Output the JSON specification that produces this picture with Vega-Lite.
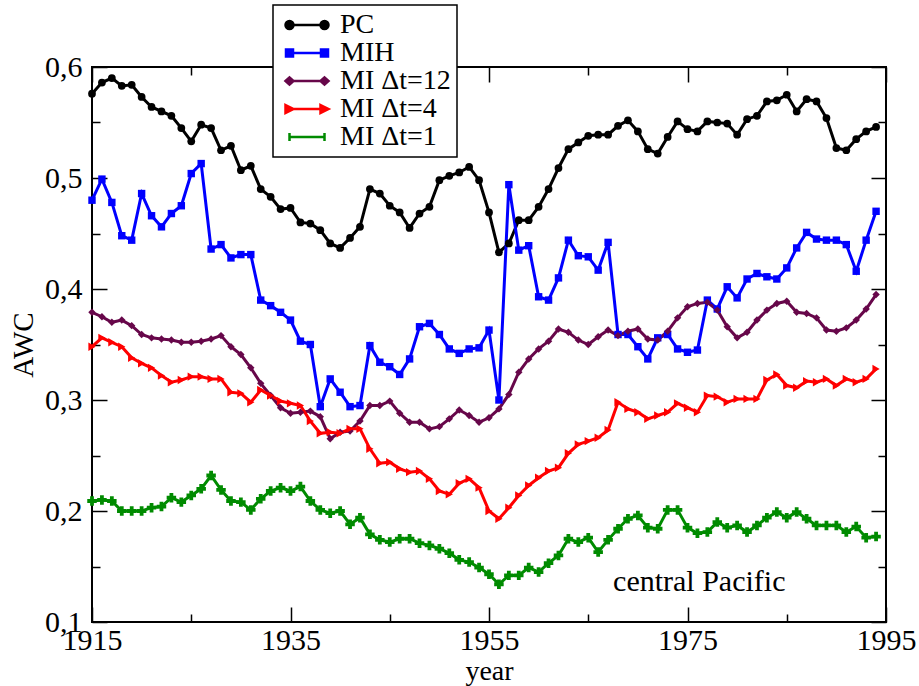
{
  "$schema": "https://vega.github.io/schema/vega-lite/v6.json",
  "width": 794,
  "height": 555,
  "autosize": {"type": "none"},
  "padding": {"left": 92, "top": 67, "right": 33, "bottom": 64},
  "background": "white",
  "config": {
    "view": {"stroke": "black", "strokeWidth": 2},
    "font": "Liberation Serif",
    "style": {"guide-label": {"font": "Liberation Serif", "fill": "black"}, "guide-title": {"font": "Liberation Serif"}},
    "axis": {"grid": false, "domain": false, "tickColor": "black", "tickWidth": 1.5, "labelColor": "black", "titleColor": "black", "labelFont": "Liberation Serif", "titleFont": "Liberation Serif", "titleFontWeight": "normal"},
    "legend": {
      "orient": "none", "legendX": 181, "legendY": -62, "title": null, "direction": "vertical",
      "fillColor": "white", "strokeColor": "black", "strokeWidth": 1.5, "padding": 6,
      "symbolSize": 400, "symbolOffset": 14, "labelOffset": 19,
      "labelFont": "serif", "labelFontSize": 28, "labelColor": "black", "labelLimit": 300, "rowPadding": 0
    }
  },
  "datasets": {
    "awc": [
      {"year":1915,"PC":0.576,"MIH":0.480,"MI Δt=12":0.379,"MI Δt=4":0.348,"MI Δt=1":0.209},
      {"year":1916,"PC":0.586,"MIH":0.499,"MI Δt=12":0.375,"MI Δt=4":0.356,"MI Δt=1":0.210},
      {"year":1917,"PC":0.590,"MIH":0.478,"MI Δt=12":0.370,"MI Δt=4":0.352,"MI Δt=1":0.209},
      {"year":1918,"PC":0.583,"MIH":0.448,"MI Δt=12":0.372,"MI Δt=4":0.348,"MI Δt=1":0.200},
      {"year":1919,"PC":0.584,"MIH":0.444,"MI Δt=12":0.367,"MI Δt=4":0.338,"MI Δt=1":0.200},
      {"year":1920,"PC":0.573,"MIH":0.486,"MI Δt=12":0.359,"MI Δt=4":0.333,"MI Δt=1":0.200},
      {"year":1921,"PC":0.564,"MIH":0.466,"MI Δt=12":0.356,"MI Δt=4":0.329,"MI Δt=1":0.203},
      {"year":1922,"PC":0.560,"MIH":0.456,"MI Δt=12":0.355,"MI Δt=4":0.322,"MI Δt=1":0.204},
      {"year":1923,"PC":0.556,"MIH":0.468,"MI Δt=12":0.354,"MI Δt=4":0.316,"MI Δt=1":0.212},
      {"year":1924,"PC":0.545,"MIH":0.475,"MI Δt=12":0.352,"MI Δt=4":0.318,"MI Δt=1":0.208},
      {"year":1925,"PC":0.533,"MIH":0.504,"MI Δt=12":0.352,"MI Δt=4":0.321,"MI Δt=1":0.214},
      {"year":1926,"PC":0.548,"MIH":0.513,"MI Δt=12":0.353,"MI Δt=4":0.321,"MI Δt=1":0.220},
      {"year":1927,"PC":0.545,"MIH":0.436,"MI Δt=12":0.355,"MI Δt=4":0.319,"MI Δt=1":0.232},
      {"year":1928,"PC":0.525,"MIH":0.440,"MI Δt=12":0.358,"MI Δt=4":0.319,"MI Δt=1":0.219},
      {"year":1929,"PC":0.529,"MIH":0.428,"MI Δt=12":0.348,"MI Δt=4":0.307,"MI Δt=1":0.209},
      {"year":1930,"PC":0.507,"MIH":0.431,"MI Δt=12":0.341,"MI Δt=4":0.306,"MI Δt=1":0.208},
      {"year":1931,"PC":0.511,"MIH":0.431,"MI Δt=12":0.329,"MI Δt=4":0.298,"MI Δt=1":0.201},
      {"year":1932,"PC":0.490,"MIH":0.390,"MI Δt=12":0.315,"MI Δt=4":0.309,"MI Δt=1":0.211},
      {"year":1933,"PC":0.483,"MIH":0.385,"MI Δt=12":0.304,"MI Δt=4":0.304,"MI Δt=1":0.218},
      {"year":1934,"PC":0.472,"MIH":0.379,"MI Δt=12":0.293,"MI Δt=4":0.299,"MI Δt=1":0.221},
      {"year":1935,"PC":0.473,"MIH":0.372,"MI Δt=12":0.288,"MI Δt=4":0.297,"MI Δt=1":0.218},
      {"year":1936,"PC":0.460,"MIH":0.353,"MI Δt=12":0.289,"MI Δt=4":0.295,"MI Δt=1":0.222},
      {"year":1937,"PC":0.459,"MIH":0.350,"MI Δt=12":0.290,"MI Δt=4":0.281,"MI Δt=1":0.209},
      {"year":1938,"PC":0.453,"MIH":0.294,"MI Δt=12":0.285,"MI Δt=4":0.270,"MI Δt=1":0.201},
      {"year":1939,"PC":0.441,"MIH":0.319,"MI Δt=12":0.265,"MI Δt=4":0.271,"MI Δt=1":0.198},
      {"year":1940,"PC":0.437,"MIH":0.307,"MI Δt=12":0.271,"MI Δt=4":0.270,"MI Δt=1":0.200},
      {"year":1941,"PC":0.446,"MIH":0.294,"MI Δt=12":0.272,"MI Δt=4":0.274,"MI Δt=1":0.188},
      {"year":1942,"PC":0.456,"MIH":0.295,"MI Δt=12":0.281,"MI Δt=4":0.274,"MI Δt=1":0.194},
      {"year":1943,"PC":0.490,"MIH":0.349,"MI Δt=12":0.295,"MI Δt=4":0.256,"MI Δt=1":0.179},
      {"year":1944,"PC":0.486,"MIH":0.334,"MI Δt=12":0.295,"MI Δt=4":0.243,"MI Δt=1":0.174},
      {"year":1945,"PC":0.475,"MIH":0.330,"MI Δt=12":0.299,"MI Δt=4":0.244,"MI Δt=1":0.172},
      {"year":1946,"PC":0.469,"MIH":0.323,"MI Δt=12":0.288,"MI Δt=4":0.238,"MI Δt=1":0.175},
      {"year":1947,"PC":0.455,"MIH":0.337,"MI Δt=12":0.280,"MI Δt=4":0.235,"MI Δt=1":0.175},
      {"year":1948,"PC":0.468,"MIH":0.366,"MI Δt=12":0.280,"MI Δt=4":0.236,"MI Δt=1":0.171},
      {"year":1949,"PC":0.474,"MIH":0.369,"MI Δt=12":0.274,"MI Δt=4":0.229,"MI Δt=1":0.169},
      {"year":1950,"PC":0.498,"MIH":0.359,"MI Δt=12":0.276,"MI Δt=4":0.218,"MI Δt=1":0.166},
      {"year":1951,"PC":0.502,"MIH":0.346,"MI Δt=12":0.283,"MI Δt=4":0.215,"MI Δt=1":0.162},
      {"year":1952,"PC":0.505,"MIH":0.342,"MI Δt=12":0.291,"MI Δt=4":0.225,"MI Δt=1":0.156},
      {"year":1953,"PC":0.510,"MIH":0.346,"MI Δt=12":0.286,"MI Δt=4":0.229,"MI Δt=1":0.154},
      {"year":1954,"PC":0.498,"MIH":0.347,"MI Δt=12":0.280,"MI Δt=4":0.221,"MI Δt=1":0.149},
      {"year":1955,"PC":0.469,"MIH":0.363,"MI Δt=12":0.284,"MI Δt=4":0.200,"MI Δt=1":0.143},
      {"year":1956,"PC":0.433,"MIH":0.300,"MI Δt=12":0.292,"MI Δt=4":0.193,"MI Δt=1":0.134},
      {"year":1957,"PC":0.441,"MIH":0.494,"MI Δt=12":0.305,"MI Δt=4":0.203,"MI Δt=1":0.142},
      {"year":1958,"PC":0.462,"MIH":0.435,"MI Δt=12":0.325,"MI Δt=4":0.214,"MI Δt=1":0.142},
      {"year":1959,"PC":0.462,"MIH":0.439,"MI Δt=12":0.337,"MI Δt=4":0.223,"MI Δt=1":0.149},
      {"year":1960,"PC":0.474,"MIH":0.393,"MI Δt=12":0.346,"MI Δt=4":0.230,"MI Δt=1":0.145},
      {"year":1961,"PC":0.490,"MIH":0.390,"MI Δt=12":0.353,"MI Δt=4":0.236,"MI Δt=1":0.153},
      {"year":1962,"PC":0.509,"MIH":0.410,"MI Δt=12":0.364,"MI Δt=4":0.239,"MI Δt=1":0.160},
      {"year":1963,"PC":0.526,"MIH":0.444,"MI Δt=12":0.361,"MI Δt=4":0.252,"MI Δt=1":0.175},
      {"year":1964,"PC":0.532,"MIH":0.430,"MI Δt=12":0.354,"MI Δt=4":0.260,"MI Δt=1":0.172},
      {"year":1965,"PC":0.538,"MIH":0.429,"MI Δt=12":0.350,"MI Δt=4":0.263,"MI Δt=1":0.176},
      {"year":1966,"PC":0.539,"MIH":0.417,"MI Δt=12":0.357,"MI Δt=4":0.266,"MI Δt=1":0.163},
      {"year":1967,"PC":0.539,"MIH":0.442,"MI Δt=12":0.363,"MI Δt=4":0.273,"MI Δt=1":0.174},
      {"year":1968,"PC":0.547,"MIH":0.359,"MI Δt=12":0.358,"MI Δt=4":0.298,"MI Δt=1":0.184},
      {"year":1969,"PC":0.552,"MIH":0.359,"MI Δt=12":0.362,"MI Δt=4":0.292,"MI Δt=1":0.193},
      {"year":1970,"PC":0.542,"MIH":0.348,"MI Δt=12":0.364,"MI Δt=4":0.289,"MI Δt=1":0.196},
      {"year":1971,"PC":0.526,"MIH":0.337,"MI Δt=12":0.355,"MI Δt=4":0.283,"MI Δt=1":0.185},
      {"year":1972,"PC":0.522,"MIH":0.356,"MI Δt=12":0.354,"MI Δt=4":0.286,"MI Δt=1":0.184},
      {"year":1973,"PC":0.537,"MIH":0.359,"MI Δt=12":0.362,"MI Δt=4":0.289,"MI Δt=1":0.201},
      {"year":1974,"PC":0.551,"MIH":0.346,"MI Δt=12":0.374,"MI Δt=4":0.297,"MI Δt=1":0.201},
      {"year":1975,"PC":0.544,"MIH":0.343,"MI Δt=12":0.384,"MI Δt=4":0.293,"MI Δt=1":0.185},
      {"year":1976,"PC":0.542,"MIH":0.345,"MI Δt=12":0.387,"MI Δt=4":0.289,"MI Δt=1":0.180},
      {"year":1977,"PC":0.551,"MIH":0.390,"MI Δt=12":0.388,"MI Δt=4":0.304,"MI Δt=1":0.181},
      {"year":1978,"PC":0.550,"MIH":0.382,"MI Δt=12":0.381,"MI Δt=4":0.303,"MI Δt=1":0.190},
      {"year":1979,"PC":0.549,"MIH":0.402,"MI Δt=12":0.366,"MI Δt=4":0.298,"MI Δt=1":0.185},
      {"year":1980,"PC":0.539,"MIH":0.392,"MI Δt=12":0.356,"MI Δt=4":0.301,"MI Δt=1":0.187},
      {"year":1981,"PC":0.553,"MIH":0.409,"MI Δt=12":0.361,"MI Δt=4":0.301,"MI Δt=1":0.181},
      {"year":1982,"PC":0.556,"MIH":0.414,"MI Δt=12":0.372,"MI Δt=4":0.301,"MI Δt=1":0.187},
      {"year":1983,"PC":0.569,"MIH":0.411,"MI Δt=12":0.381,"MI Δt=4":0.318,"MI Δt=1":0.194},
      {"year":1984,"PC":0.570,"MIH":0.409,"MI Δt=12":0.387,"MI Δt=4":0.323,"MI Δt=1":0.199},
      {"year":1985,"PC":0.575,"MIH":0.419,"MI Δt=12":0.389,"MI Δt=4":0.313,"MI Δt=1":0.194},
      {"year":1986,"PC":0.560,"MIH":0.437,"MI Δt=12":0.379,"MI Δt=4":0.311,"MI Δt=1":0.199},
      {"year":1987,"PC":0.571,"MIH":0.451,"MI Δt=12":0.378,"MI Δt=4":0.317,"MI Δt=1":0.193},
      {"year":1988,"PC":0.569,"MIH":0.445,"MI Δt=12":0.374,"MI Δt=4":0.316,"MI Δt=1":0.187},
      {"year":1989,"PC":0.554,"MIH":0.444,"MI Δt=12":0.363,"MI Δt=4":0.319,"MI Δt=1":0.187},
      {"year":1990,"PC":0.527,"MIH":0.444,"MI Δt=12":0.362,"MI Δt=4":0.313,"MI Δt=1":0.187},
      {"year":1991,"PC":0.525,"MIH":0.440,"MI Δt=12":0.365,"MI Δt=4":0.319,"MI Δt=1":0.181},
      {"year":1992,"PC":0.535,"MIH":0.416,"MI Δt=12":0.372,"MI Δt=4":0.316,"MI Δt=1":0.186},
      {"year":1993,"PC":0.542,"MIH":0.444,"MI Δt=12":0.382,"MI Δt=4":0.319,"MI Δt=1":0.176},
      {"year":1994,"PC":0.546,"MIH":0.470,"MI Δt=12":0.395,"MI Δt=4":0.328,"MI Δt=1":0.177}
    ],
    "note": [{"year": 1967.5, "AWC": 0.128, "label": "central Pacific"}]
  },
  "layer": [
    {
      "data": {"name": "awc"},
      "transform": [{"fold": ["PC", "MIH", "MI Δt=12", "MI Δt=4", "MI Δt=1"], "as": ["series", "AWC"]}],
      "mark": {"type": "line", "strokeWidth": 3},
      "encoding": {
        "x": {"field": "year", "type": "quantitative", "scale": {"domain": [1915, 1995], "nice": false, "zero": false},
              "axis": {"orient": "bottom", "values": [1915, 1935, 1955, 1975, 1995], "format": "d", "tickSize": -15, "labelFontSize": 30, "labelPadding": 18, "labelFlush": false, "labelOverlap": false, "title": "year", "titleFontSize": 28, "titlePadding": 2}},
        "y": {"field": "AWC", "type": "quantitative", "scale": {"domain": [0.1, 0.6], "nice": false, "zero": false},
              "axis": {"orient": "left", "values": [0.1, 0.2, 0.3, 0.4, 0.5, 0.6], "labelExpr": "replace(format(datum.value, '.1f'), '.', ',')", "tickSize": -15, "labelFontSize": 30, "labelPadding": 25, "labelFlush": false, "labelOverlap": false, "title": "AWC", "titleFontSize": 29, "titlePadding": 6}},
        "color": {"field": "series", "type": "nominal",
                  "scale": {"domain": ["PC", "MIH", "MI Δt=12", "MI Δt=4", "MI Δt=1"], "range": ["#000000", "#0000ff", "#67074a", "#ff0000", "#008b00"]},
                  "legend": {
                    "orient": "none", "legendX": 181, "legendY": -62, "title": null, "direction": "vertical",
                    "fillColor": "white", "strokeColor": "black", "padding": 6,
                    "symbolSize": 400, "symbolOffset": 14, "labelOffset": 19,
                    "labelFont": "serif", "labelFontSize": 28, "labelColor": "black", "labelLimit": 300, "rowPadding": 0,
                    "encode": {
                      "labels": {"update": {"font": {"value": "serif"}, "fontSize": {"value": 28}, "fill": {"value": "black"}, "text": {"field": "label"}}},
                      "symbols": {"update": {
                      "shape": {"signal": "['M-1.75,0L1.75,0M-2.15,0A0.4,0.4 0 1,0 -1.35,0A0.4,0.4 0 1,0 -2.15,0ZM1.35,0A0.4,0.4 0 1,0 2.15,0A0.4,0.4 0 1,0 1.35,0Z', 'M-1.75,0L1.75,0M-2.1,-0.35H-1.4V0.35H-2.1ZM1.4,-0.35H2.1V0.35H1.4Z', 'M-1.35,0L1.35,0M-2.15,0L-1.75,-0.35L-1.35,0L-1.75,0.35ZM1.35,0L1.75,-0.35L2.15,0L1.75,0.35Z', 'M-1.75,0L1.75,0M-2.15,-0.4L-1.35,0L-2.15,0.4ZM1.35,-0.4L2.15,0L1.35,0.4Z', 'M-1.75,0L1.75,0M-1.75,-0.4V0.4M1.75,-0.4V0.4'][datum.index]"},
                      "stroke": {"signal": "['#000000', '#0000ff', '#67074a', '#ff0000', '#008b00'][datum.index]"},
                      "fill": {"signal": "['#000000', '#0000ff', '#ffffff', '#ff0000', '#008b00'][datum.index]"},
                      "strokeWidth": {"value": 2.5},
                      "size": {"value": 400},
                      "opacity": {"value": 1},
                      "fillOpacity": {"value": 1},
                      "strokeOpacity": {"value": 1}
                    }}}
                  }}
      }
    },
    {
      "data": {"name": "awc"},
      "transform": [{"fold": ["PC", "MIH", "MI Δt=12", "MI Δt=4", "MI Δt=1"], "as": ["series", "AWC"]}, {"filter": {"field": "series", "equal": "PC"}}],
      "mark": {"type": "point", "shape": "circle", "filled": true, "opacity": 1, "size": 60},
      "encoding": {
        "x": {"field": "year", "type": "quantitative", "scale": {"domain": [1915, 1995], "nice": false, "zero": false},
              "axis": {"orient": "bottom", "values": [1925, 1945, 1965, 1985], "tickSize": -8, "labels": false, "title": null}},
        "y": {"field": "AWC", "type": "quantitative", "scale": {"domain": [0.1, 0.6], "nice": false, "zero": false},
              "axis": {"orient": "left", "values": [0.15, 0.25, 0.35, 0.45, 0.55], "tickSize": -8, "labels": false, "title": null}},
        "color": {"field": "series", "type": "nominal",
                  "scale": {"domain": ["PC", "MIH", "MI Δt=12", "MI Δt=4", "MI Δt=1"], "range": ["#000000", "#0000ff", "#67074a", "#ff0000", "#008b00"]}}
      }
    },
    {
      "data": {"name": "awc"},
      "transform": [{"fold": ["PC", "MIH", "MI Δt=12", "MI Δt=4", "MI Δt=1"], "as": ["series", "AWC"]}, {"filter": {"field": "series", "equal": "MIH"}}],
      "mark": {"type": "point", "shape": "square", "filled": true, "opacity": 1, "size": 55},
      "encoding": {
        "x": {"field": "year", "type": "quantitative", "scale": {"domain": [1915, 1995], "nice": false, "zero": false}, "axis": null},
        "y": {"field": "AWC", "type": "quantitative", "scale": {"domain": [0.1, 0.6], "nice": false, "zero": false}, "axis": null},
        "color": {"field": "series", "type": "nominal",
                  "scale": {"domain": ["PC", "MIH", "MI Δt=12", "MI Δt=4", "MI Δt=1"], "range": ["#000000", "#0000ff", "#67074a", "#ff0000", "#008b00"]}}
      }
    },
    {
      "data": {"name": "awc"},
      "transform": [{"fold": ["PC", "MIH", "MI Δt=12", "MI Δt=4", "MI Δt=1"], "as": ["series", "AWC"]}, {"filter": {"field": "series", "equal": "MI Δt=12"}}],
      "mark": {"type": "point", "shape": "diamond", "filled": true, "opacity": 1, "size": 55},
      "encoding": {
        "x": {"field": "year", "type": "quantitative", "scale": {"domain": [1915, 1995], "nice": false, "zero": false}, "axis": null},
        "y": {"field": "AWC", "type": "quantitative", "scale": {"domain": [0.1, 0.6], "nice": false, "zero": false}, "axis": null},
        "color": {"field": "series", "type": "nominal",
                  "scale": {"domain": ["PC", "MIH", "MI Δt=12", "MI Δt=4", "MI Δt=1"], "range": ["#000000", "#0000ff", "#67074a", "#ff0000", "#008b00"]}}
      }
    },
    {
      "data": {"name": "awc"},
      "transform": [{"fold": ["PC", "MIH", "MI Δt=12", "MI Δt=4", "MI Δt=1"], "as": ["series", "AWC"]}, {"filter": {"field": "series", "equal": "MI Δt=4"}}],
      "mark": {"type": "point", "shape": "triangle-right", "filled": true, "opacity": 1, "size": 70},
      "encoding": {
        "x": {"field": "year", "type": "quantitative", "scale": {"domain": [1915, 1995], "nice": false, "zero": false}, "axis": null},
        "y": {"field": "AWC", "type": "quantitative", "scale": {"domain": [0.1, 0.6], "nice": false, "zero": false}, "axis": null},
        "color": {"field": "series", "type": "nominal",
                  "scale": {"domain": ["PC", "MIH", "MI Δt=12", "MI Δt=4", "MI Δt=1"], "range": ["#000000", "#0000ff", "#67074a", "#ff0000", "#008b00"]}}
      }
    },
    {
      "data": {"name": "awc"},
      "transform": [{"fold": ["PC", "MIH", "MI Δt=12", "MI Δt=4", "MI Δt=1"], "as": ["series", "AWC"]}, {"filter": {"field": "series", "equal": "MI Δt=1"}}],
      "mark": {"type": "point", "shape": "cross", "filled": true, "opacity": 1, "size": 90},
      "encoding": {
        "x": {"field": "year", "type": "quantitative", "scale": {"domain": [1915, 1995], "nice": false, "zero": false}, "axis": null},
        "y": {"field": "AWC", "type": "quantitative", "scale": {"domain": [0.1, 0.6], "nice": false, "zero": false}, "axis": null},
        "color": {"field": "series", "type": "nominal",
                  "scale": {"domain": ["PC", "MIH", "MI Δt=12", "MI Δt=4", "MI Δt=1"], "range": ["#000000", "#0000ff", "#67074a", "#ff0000", "#008b00"]}}
      }
    },
    {
      "data": {"name": "note"},
      "mark": {"type": "text", "align": "left", "baseline": "alphabetic", "font": "Liberation Serif", "fontSize": 30, "color": "black"},
      "encoding": {
        "x": {"field": "year", "type": "quantitative", "scale": {"domain": [1915, 1995], "nice": false, "zero": false},
              "axis": {"orient": "top", "values": [1915, 1935, 1955, 1975, 1995], "tickSize": -15, "labels": false, "title": null}},
        "y": {"field": "AWC", "type": "quantitative", "scale": {"domain": [0.1, 0.6], "nice": false, "zero": false},
              "axis": {"orient": "right", "values": [0.1, 0.2, 0.3, 0.4, 0.5, 0.6], "tickSize": -15, "labels": false, "title": null}},
        "text": {"field": "label"}
      }
    },
    {
      "data": {"name": "note"},
      "mark": {"type": "point", "opacity": 0},
      "encoding": {
        "x": {"field": "year", "type": "quantitative", "scale": {"domain": [1915, 1995], "nice": false, "zero": false},
              "axis": {"orient": "top", "values": [1925, 1945, 1965, 1985], "tickSize": -8, "labels": false, "title": null}},
        "y": {"field": "AWC", "type": "quantitative", "scale": {"domain": [0.1, 0.6], "nice": false, "zero": false},
              "axis": {"orient": "right", "values": [0.15, 0.25, 0.35, 0.45, 0.55], "tickSize": -8, "labels": false, "title": null}}
      }
    }
  ],
  "resolve": {"axis": {"x": "independent", "y": "independent"}}
}
